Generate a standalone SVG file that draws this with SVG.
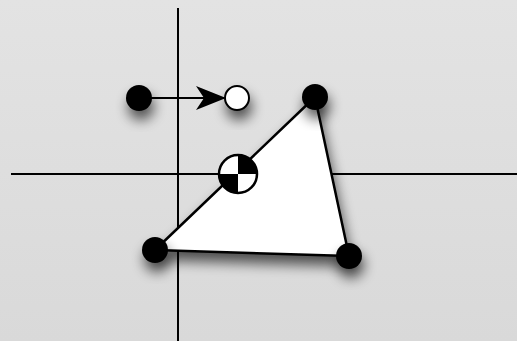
<svg xmlns="http://www.w3.org/2000/svg" width="517" height="341" viewBox="0 0 517 341">
<defs>
<linearGradient id="bg" x1="0" y1="0" x2="0" y2="1">
<stop offset="0" stop-color="#e3e3e3"/>
<stop offset="1" stop-color="#d9d9d9"/>
</linearGradient>
<filter id="sh" x="-80%" y="-80%" width="260%" height="260%">
<feGaussianBlur in="SourceAlpha" stdDeviation="6.5"/>
<feOffset dx="2" dy="9" result="b"/>
<feComponentTransfer><feFuncA type="linear" slope="0.65"/></feComponentTransfer>
<feMerge><feMergeNode/><feMergeNode in="SourceGraphic"/></feMerge>
</filter>
<marker id="arr" viewBox="0 0 30 24" refX="28" refY="12" markerWidth="30" markerHeight="24" markerUnits="userSpaceOnUse" orient="auto">
<path d="M0,0 L30,12 L0,24 L8,12 Z" fill="#000"/>
</marker>
<style>
.axis{stroke:#000;stroke-width:2;fill:none}
.dot{fill:#000}
.edge{stroke:#000;stroke-width:2;fill:none}
</style>
</defs>
<rect width="517" height="341" fill="url(#bg)"/>
<g id="axes">
<line class="axis" x1="178" y1="8" x2="178" y2="341"/>
<line class="axis" x1="11" y1="174" x2="517" y2="174"/>
</g>
<g id="shape" filter="url(#sh)">
<polygon points="315,97 155,250 349,256" fill="#fff" stroke="#000" stroke-width="2.5" stroke-linejoin="round"/>
</g>
<g id="connectors">
<line class="edge" x1="150" y1="98" x2="224" y2="98" marker-end="url(#arr)"/>
</g>
<g id="src" filter="url(#sh)"><circle class="dot" cx="139" cy="98" r="13"/></g>
<g id="dst" filter="url(#sh)"><circle cx="237" cy="98" r="12" fill="#fff" stroke="#000" stroke-width="2"/></g>
<g id="v1" filter="url(#sh)"><circle class="dot" cx="315" cy="97" r="13"/></g>
<g id="v2" filter="url(#sh)"><circle class="dot" cx="155" cy="250" r="13"/></g>
<g id="v3" filter="url(#sh)"><circle class="dot" cx="349" cy="256" r="13"/></g>
<g id="com">
<circle cx="238" cy="174" r="19" fill="#fff"/>
<path d="M238,174 L238,155 A19,19 0 0 1 257,174 Z" fill="#000"/>
<path d="M238,174 L238,193 A19,19 0 0 1 219,174 Z" fill="#000"/>
<circle cx="238" cy="174" r="19" fill="none" stroke="#000" stroke-width="2.5"/>
</g>
</svg>
